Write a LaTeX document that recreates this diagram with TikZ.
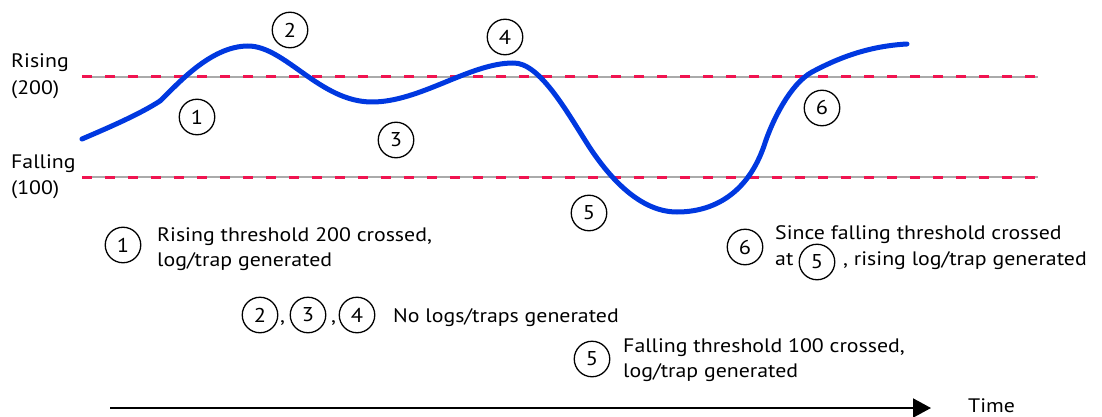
\documentclass[tikz,border=0pt]{standalone}
\usepackage{fontspec}
\setmainfont{PT Sans}[FakeStretch=1.12]
\usetikzlibrary{arrows.meta}
\definecolor{curveblue}{RGB}{0,56,224}
\definecolor{threshred}{RGB}{240,20,80}
\definecolor{threshgray}{RGB}{170,170,170}
\tikzset{
  num/.style={circle,draw=black,line width=1.3pt,minimum size=35.5pt,inner sep=0pt,font=\fontsize{20}{20}\selectfont},
  txt/.style={inner sep=0pt,anchor=base west,font=\fontsize{19.5}{25}\selectfont},
  graylines/.style={draw=threshgray,line width=1.2pt},
  redlines/.style={draw=threshred,line width=3pt,dash pattern=on 10pt off 13pt},
  curve/.style={draw=curveblue,line width=5pt,line cap=round,line join=round},
  axis/.style={draw=black,line width=2pt,-{Triangle[length=18pt,width=19pt]}}
}
\begin{document}
\begin{tikzpicture}[x=1pt,y=-1pt]
\useasboundingbox (0,0) rectangle (1102,417);
% thresholds
\coordinate (r0) at (82,77); \coordinate (r1) at (1038,77);
\coordinate (f0) at (82,177); \coordinate (f1) at (1038,177);
\draw[graylines] (r0) -- (r1);
\draw[graylines] (f0) -- (f1);
\draw[redlines] (r0) -- (r1);
\draw[redlines] (f0) -- (f1);
% labels
\node[txt] (lr1) at (11,68) {Rising};
\node[txt] (lr2) at (11,95) {(200)};
\node[txt] (lf1) at (11,168) {Falling};
\node[txt] (lf2) at (11,194) {(100)};
% curve
\coordinate (pA) at (82,139);
\coordinate (pB) at (160,101);
\coordinate (pC) at (248,46);
\coordinate (pE) at (372,102);
\coordinate (pF) at (513,63);
\coordinate (pH) at (590,148);
\coordinate (pG) at (677,212);
\coordinate (pJ) at (765,143);
\coordinate (pK) at (812,72);
\coordinate (pL) at (907,44);
\draw[curve] (pA) .. controls (110,127) and (140,114) .. (pB)
  .. controls (176,86) and (210,46) .. (pC)
  .. controls (285,46) and (320,102) .. (pE)
  .. controls (420,102) and (470,63) .. (pF)
  .. controls (540,62) and (568,114) .. (pH)
  .. controls (610,178) and (640,212) .. (pG)
  .. controls (712,212) and (748,195) .. (pJ)
  .. controls (772,121.6) and (790,84) .. (pK)
  .. controls (840,57) and (870,46) .. (pL);
% circles on graph
\node[num] (c1) at (197,117) {1};
\node[num] (c2) at (290,30) {2};
\node[num] (c3) at (396,140) {3};
\node[num] (c4) at (505,37) {4};
\node[num] (c5) at (589,213) {5};
\node[num] (c6) at (822,108) {6};
% legend 1
\node[num] (l1) at (123,245) {1};
\node[txt] (t1a) at (157,241) {Rising threshold 200 crossed,};
\node[txt] (t1b) at (157,266) {log/trap generated};
% legend 2,3,4
\node[num] (l2) at (260,315) {2};
\node[txt] (cm1) at (280,322) {,};
\node[num] (l3) at (308,315) {3};
\node[txt] (cm2) at (331,322) {,};
\node[num] (l4) at (357,315) {4};
\node[txt] (t2) at (393,322) {No logs/traps generated};
% legend 5
\node[num] (l5) at (592,359) {5};
\node[txt] (t5a) at (623,352) {Falling threshold 100 crossed,};
\node[txt] (t5b) at (623,377) {log/trap generated};
% legend 6
\node[num] (l6) at (745,247) {6};
\node[txt] (t6a) at (775,239) {Since falling threshold crossed};
\node[txt] (t6b) at (775,265) {at};
\node[num] (l6c) at (817,262) {5};
\node[txt] (t6c) at (843,265) {, rising log/trap generated};
% time axis
\coordinate (ta) at (110,408);
\coordinate (tb) at (931,408);
\draw[axis] (ta) -- (tb);
\node[txt] (time) at (968,412) {Time};
\end{tikzpicture}
\end{document}
